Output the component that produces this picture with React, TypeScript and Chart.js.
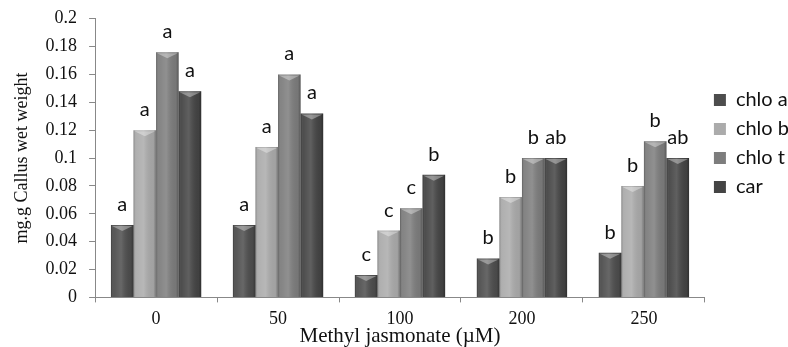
import React, { useEffect, useRef } from "react";
import { Chart, registerables } from "chart.js";

Chart.register(...registerables);

const categories = ["0", "50", "100", "200", "250"];
const seriesNames = ["chlo a", "chlo b", "chlo t", "car"];
const chloA = [0.052, 0.052, 0.016, 0.028, 0.032];
const chloB = [0.12, 0.108, 0.048, 0.072, 0.08];
const chloT = [0.176, 0.16, 0.064, 0.1, 0.112];
const car = [0.148, 0.132, 0.088, 0.1, 0.1];
const lettersA = ["a", "a", "c", "b", "b"];
const lettersB = ["a", "a", "c", "b", "b"];
const lettersT = ["a", "a", "c", "b", "b"];
const lettersCar = ["a", "a", "b", "ab", "ab"];
const seriesColors = ["#4d4d4d", "#ababab", "#7d7d7d", "#444444"];
const yTitle = "mg.g Callus wet weight";
const xTitle = "Methyl jasmonate (\u00b5M)";

const letterSets = [lettersA, lettersB, lettersT, lettersCar];
const SANS = "Lato, 'Liberation Sans', Arial, sans-serif";
const SERIF = "'Liberation Serif', 'Times New Roman', serif";

const bevelPlugin = {
  id: "bevel",
  afterDatasetsDraw(chart: any) {
    const ctx = chart.ctx;
    chart.data.datasets.forEach((_ds: any, di: number) => {
      const meta = chart.getDatasetMeta(di);
      meta.data.forEach((bar: any) => {
        const w = bar.width;
        const left = bar.x - w / 2;
        const top = bar.y;
        const bottom = bar.base;
        const g = ctx.createLinearGradient(left, 0, left + w, 0);
        g.addColorStop(0, "rgba(0,0,0,0.25)");
        g.addColorStop(0.12, "rgba(255,255,255,0.05)");
        g.addColorStop(0.45, "rgba(255,255,255,0.15)");
        g.addColorStop(0.88, "rgba(0,0,0,0.05)");
        g.addColorStop(1, "rgba(0,0,0,0.3)");
        ctx.save();
        ctx.fillStyle = g;
        ctx.fillRect(left, top, w, bottom - top);
        ctx.beginPath();
        ctx.moveTo(left + 1, top + 1);
        ctx.lineTo(left + w - 1, top + 1);
        ctx.lineTo(bar.x, top + 6);
        ctx.closePath();
        ctx.fillStyle = "rgba(255,255,255,0.35)";
        ctx.fill();
        ctx.restore();
      });
    });
  },
};

const lettersPlugin = {
  id: "letters",
  afterDatasetsDraw(chart: any) {
    const ctx = chart.ctx;
    ctx.save();
    ctx.font = "20px " + SANS;
    ctx.fillStyle = "#111";
    ctx.textAlign = "center";
    ctx.textBaseline = "alphabetic";
    chart.data.datasets.forEach((_ds: any, di: number) => {
      const meta = chart.getDatasetMeta(di);
      meta.data.forEach((bar: any, i: number) => {
        ctx.fillText(letterSets[di][i], bar.x, bar.y - 14);
      });
    });
    ctx.restore();
  },
};

export default function App() {
  const ref = useRef<HTMLCanvasElement | null>(null);
  useEffect(() => {
    document.body.style.margin = "0";
    const canvas = ref.current;
    if (!canvas) return;
    const values = [chloA, chloB, chloT, car];
    const chart = new Chart(canvas, {
      type: "bar",
      data: {
        labels: categories,
        datasets: seriesNames.map((name, i) => ({
          label: name,
          data: values[i],
          backgroundColor: seriesColors[i],
          borderWidth: 0,
          categoryPercentage: 0.74,
          barPercentage: 1,
        })),
      },
      options: {
        responsive: false,
        animation: false,
        devicePixelRatio: 1,
        layout: { padding: { top: 6, left: 11, right: -11, bottom: 0 } },
        plugins: {
          tooltip: { enabled: false },
          legend: {
            position: "right",
            align: "start",
            title: {
              display: true,
              text: "",
              font: { size: 10, lineHeight: 1 },
              padding: { top: 65, bottom: 0 },
            },
            labels: {
              boxWidth: 12,
              boxHeight: 12,
              padding: 9,
              color: "#111",
              font: { family: SANS, size: 20 },
            },
          },
        },
        scales: {
          x: {
            grid: {
              offset: true,
              drawOnChartArea: false,
              drawTicks: true,
              tickLength: 5,
              color: "#888",
            },
            border: { color: "#888" },
            ticks: {
              color: "#111",
              padding: 6,
              font: { family: SERIF, size: 18 },
            },
            title: {
              display: true,
              text: xTitle,
              color: "#111",
              padding: { top: -10, bottom: 0 },
              font: { family: SERIF, size: 21, lineHeight: 1 },
            },
          },
          y: {
            min: 0,
            max: 0.2,
            grid: {
              drawOnChartArea: false,
              drawTicks: true,
              tickLength: 6,
              color: "#888",
            },
            border: { color: "#888" },
            ticks: {
              stepSize: 0.02,
              color: "#111",
              padding: 12,
              font: { family: SERIF, size: 18, lineHeight: 0.75 },
              callback: (v: any) => String(Number(Number(v).toFixed(2))),
            },
            title: {
              display: true,
              text: yTitle,
              color: "#111",
              padding: { top: 0, bottom: 1 },
              font: { family: SERIF, size: 18 },
            },
          },
        },
      },
      plugins: [bevelPlugin, lettersPlugin],
    });
    return () => chart.destroy();
  }, []);
  return <canvas ref={ref} width={788} height={347} style={{ display: "block" }} />;
}
